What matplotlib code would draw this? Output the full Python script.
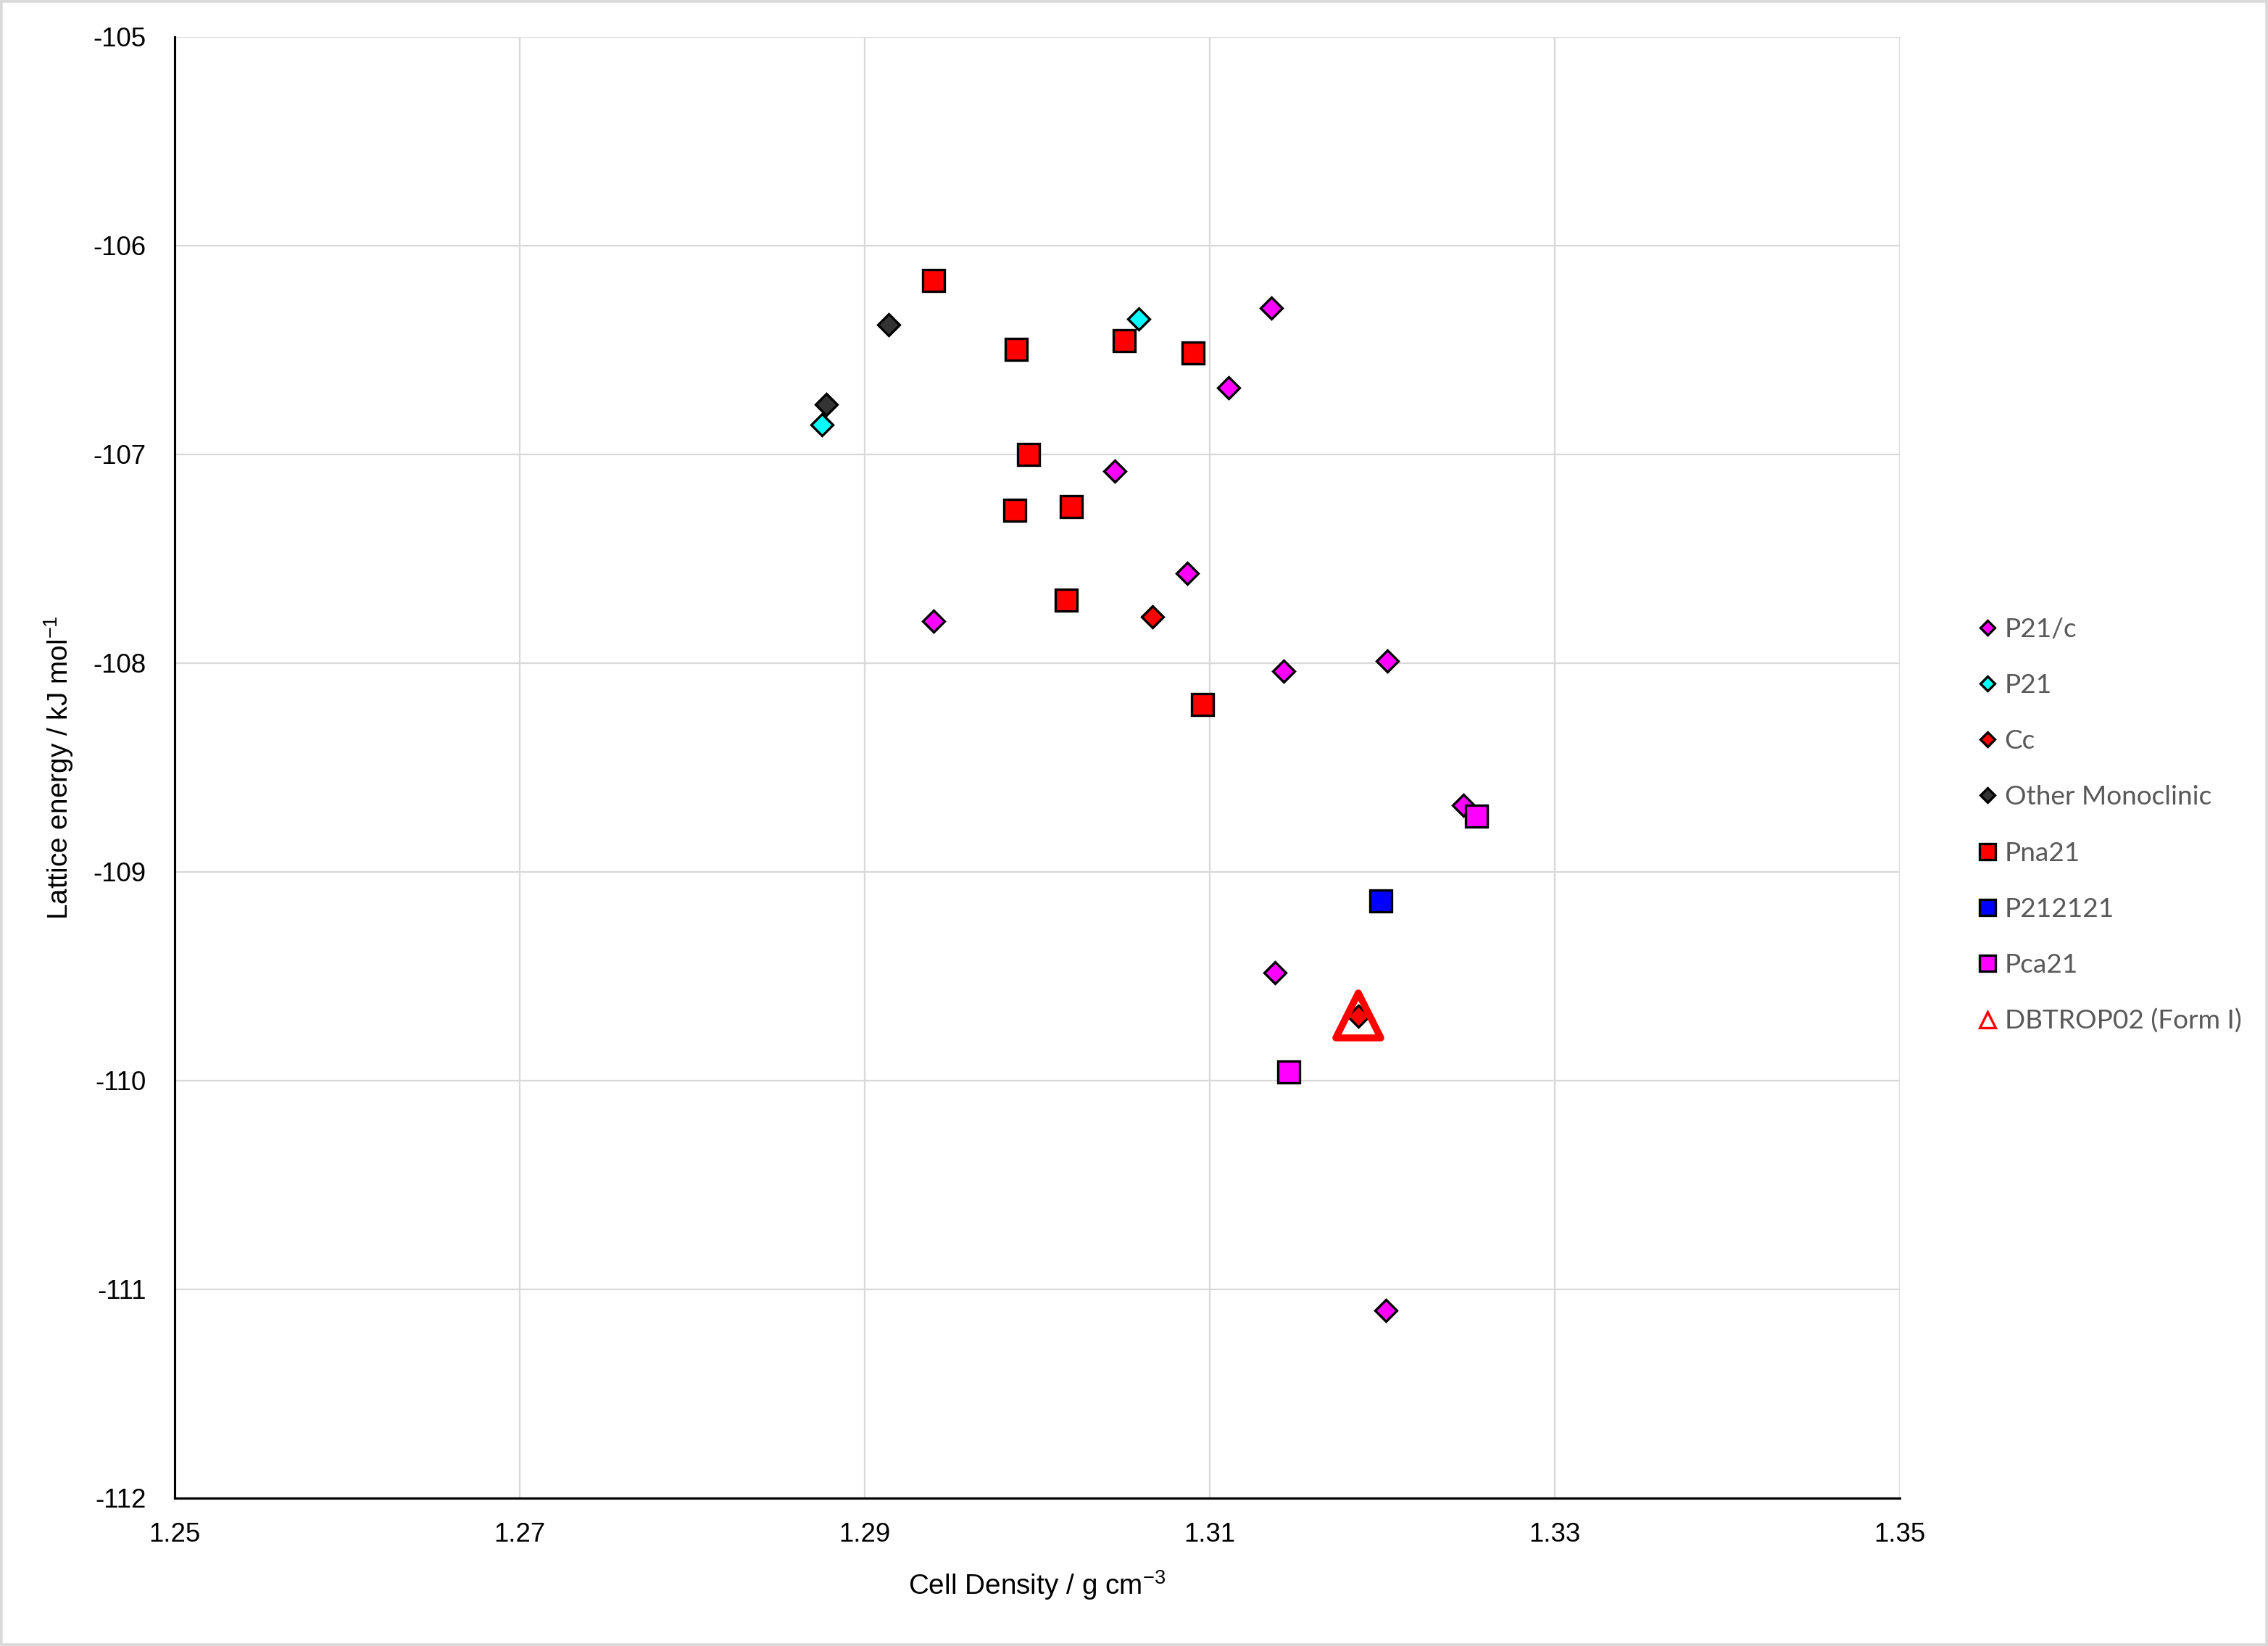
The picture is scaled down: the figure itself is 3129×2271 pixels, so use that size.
import matplotlib
matplotlib.use("Agg")
import matplotlib.pyplot as plt
from matplotlib.lines import Line2D
from matplotlib.markers import MarkerStyle
from matplotlib.patches import Rectangle
from matplotlib.ticker import FixedLocator, FixedFormatter

plt.rcParams["axes.unicode_minus"] = False
plt.rcParams["mathtext.fontset"] = "custom"
plt.rcParams["mathtext.rm"] = "Liberation Sans"

# ---------------- data ----------------
p21c_x = [1.31356, 1.31109, 1.30449, 1.30869, 1.29401, 1.31430, 1.32030, 1.32470, 1.31379, 1.32021]
p21c_y = [-106.298, -106.681, -107.080, -107.570, -107.799, -108.039, -107.991, -108.681, -109.483, -111.100]

p21_x = [1.30588, 1.28751]
p21_y = [-106.350, -106.859]

cc_x = [1.30667, 1.31861]
cc_y = [-107.778, -109.691]

other_x = [1.29140, 1.28779]
other_y = [-106.379, -106.761]

pna21_x = [1.29399, 1.29878, 1.30506, 1.30904, 1.29949, 1.29869, 1.30197, 1.30167, 1.30958]
pna21_y = [-106.168, -106.497, -106.456, -106.515, -106.999, -107.266, -107.249, -107.697, -108.197]

p212121_x = [1.31990]
p212121_y = [-109.140]

pca21_x = [1.32547, 1.31456]
pca21_y = [-108.731, -109.959]

dbtrop_x = [1.31862]
dbtrop_y = [-109.688]

series_names = ["P21/c", "P21", "Cc", "Other Monoclinic", "Pna21", "P212121", "Pca21", "DBTROP02 (Form I)"]

x_ticks = [1.25, 1.27, 1.29, 1.31, 1.33, 1.35]
x_tick_labels = ["1.25", "1.27", "1.29", "1.31", "1.33", "1.35"]
y_ticks = [-112, -111, -110, -109, -108, -107, -106, -105]
y_tick_labels = ["-112", "-111", "-110", "-109", "-108", "-107", "-106", "-105"]

x_label = r"Cell Density / g cm$^{\mathregular{-3}}$"
y_label = r"Lattice energy / kJ mol$^{\mathregular{-1}}$"

# ---------------- styles ----------------
SQ_MS = 7.1
DI_MS = 4.95
EW = 0.8

styles = [
    dict(x=p21c_x, y=p21c_y, marker="D", ms=DI_MS, fc="#FF00FF", ec="black", lw=EW, lms=3.5),
    dict(x=p21_x, y=p21_y, marker="D", ms=DI_MS, fc="#00FFFF", ec="black", lw=EW, lms=3.5),
    dict(x=cc_x, y=cc_y, marker="D", ms=DI_MS, fc="#FF0000", ec="black", lw=EW, lms=3.5),
    dict(x=other_x, y=other_y, marker="D", ms=DI_MS, fc="#333333", ec="black", lw=EW, lms=3.5),
    dict(x=pna21_x, y=pna21_y, marker="s", ms=SQ_MS, fc="#FF0000", ec="black", lw=EW, lms=5.3),
    dict(x=p212121_x, y=p212121_y, marker="s", ms=SQ_MS, fc="#0000FF", ec="black", lw=EW, lms=5.3),
    dict(x=pca21_x, y=pca21_y, marker="s", ms=SQ_MS, fc="#FF00FF", ec="black", lw=EW, lms=5.3),
    dict(x=dbtrop_x, y=dbtrop_y, marker="^", ms=14.9, fc="none", ec="#FF0000", lw=2.3, lms=5.2, llw=0.8),
]

fig = plt.figure(figsize=(3129 / 300, 2271 / 300), dpi=300)
ax = fig.add_axes([241 / 3129, 1 - 2067 / 2271, (2621 - 241) / 3129, (2067 - 51) / 2271])

handles = []
for i, s in enumerate(styles):
    m = MarkerStyle(s["marker"], joinstyle="round" if s["marker"] == "^" else "miter")
    ax.plot(s["x"], s["y"], linestyle="none", marker=m, markersize=s["ms"],
            markerfacecolor=s["fc"], markeredgecolor=s["ec"], markeredgewidth=s["lw"],
            zorder=3 + i, clip_on=False)
    hm = MarkerStyle(s["marker"], joinstyle="miter")
    handles.append(Line2D([], [], linestyle="none", marker=hm, markersize=s["lms"],
                          markerfacecolor=s["fc"], markeredgecolor=s["ec"],
                          markeredgewidth=s.get("llw", EW), label=series_names[i]))

ax.set_xlim(1.25, 1.35)
ax.set_ylim(-112, -105)
ax.xaxis.set_major_locator(FixedLocator(x_ticks))
ax.xaxis.set_major_formatter(FixedFormatter(x_tick_labels))
ax.yaxis.set_major_locator(FixedLocator(y_ticks))
ax.yaxis.set_major_formatter(FixedFormatter(y_tick_labels))

ax.grid(True, color="#D9D9D9", linewidth=0.55, zorder=0)
ax.set_axisbelow(True)
for side in ("top", "right"):
    ax.spines[side].set_visible(False)
for side in ("left", "bottom"):
    ax.spines[side].set_linewidth(0.75)
    ax.spines[side].set_color("black")
    ax.spines[side].set_zorder(2.5)

ax.tick_params(axis="both", length=0)
ax.tick_params(axis="y", pad=9.4)
ax.tick_params(axis="x", pad=8)
for t in ax.get_yticklabels():
    t.set_fontfamily(["Liberation Sans", "DejaVu Sans"])
    t.set_fontsize(8.8)
for t in ax.get_xticklabels():
    t.set_fontfamily(["Liberation Sans Narrow", "Liberation Sans", "DejaVu Sans"])
    t.set_fontsize(8.8)

ax.set_xlabel(x_label, fontsize=9.3, family=["Liberation Sans Narrow", "Liberation Sans", "DejaVu Sans"], labelpad=7)
ax.set_ylabel(y_label, fontsize=9.3, family=["Liberation Sans", "DejaVu Sans"], labelpad=6)

leg = fig.legend(handles=handles, loc="center left", bbox_to_anchor=(2723 / 3129, 1 - 1139 / 2271),
                 frameon=False, handlelength=1.0, handletextpad=0.15,
                 labelspacing=1.19, borderpad=0, borderaxespad=0,
                 prop={"family": ["Lato", "DejaVu Sans"], "size": 8.9})
for t in leg.get_texts():
    t.set_color("#595959")

fig.patches.append(Rectangle((0, 0), 1, 1, transform=fig.transFigure, fill=False,
                             edgecolor="#D9D9D9", linewidth=1.8, zorder=10))

fig.savefig("out.png", dpi=300)
